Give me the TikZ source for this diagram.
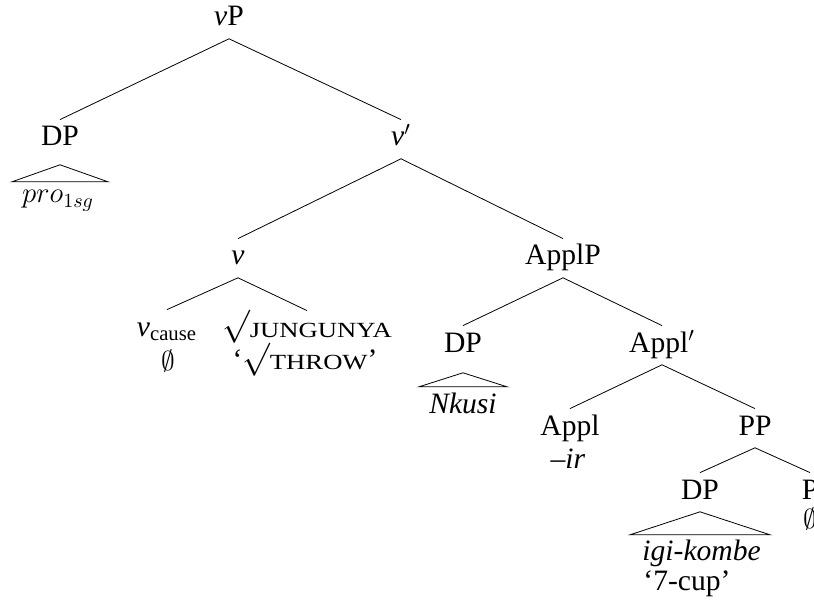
\documentclass[tikz,border=0pt]{standalone}
\usepackage[no-math]{fontspec}
\setmainfont{Liberation Serif}
\usepackage{graphicx}

% small caps made from squeezed capitals
\newcommand{\smcap}[1]{\scalebox{0.9}[0.73]{\MakeUppercase{#1}}}
% root sign sitting on the baseline
\newcommand{\rootsign}{\raisebox{0.07em}{\scalebox{1.15}{$\surd$}}}
\newcommand{\nullhead}{\scalebox{0.95}{$\emptyset$}}

\tikzset{
  lbl/.style={inner sep=3pt, text height=10pt, text depth=3.2pt, anchor=base},
  gloss/.style={inner sep=0pt, anchor=base}
}

\begin{document}
\begin{tikzpicture}[x=0.5pt,y=-0.5pt]
    \fontsize{14.8}{17.5}\selectfont
    \useasboundingbox (0,0) rectangle (814,609);

    % top of the tree
    \node[lbl] (vp) at (229,26) {\textit{v}P};
    \node[lbl] (dpa) at (60,146) {DP};
    \node[lbl] (vbar) at (401,146) {\textit{v}$'$};
    \draw (vp.south) -- (dpa.north);
    \draw (vp.south) -- (vbar.north);

    % subject
    \draw (dpa.south) ++(0,6) -- ++(-48,17) -- ++(96,0) -- cycle;
    \node[gloss] (pro) at (58,203) {$pro_{1sg}$};

    % v' level
    \node[lbl] (v) at (238,265) {\textit{v}};
    \node[lbl] (applp) at (563,265) {ApplP};
    \draw (vbar.south) -- (v.north);
    \draw (vbar.south) -- (applp.north);

    % little v and the root
    \node[lbl] (vcause) at (167,336) {\textit{v}\textsubscript{cause}};
    \node[gloss] (vnull) at (168,371) {\nullhead};
    \node[lbl] (root) at (307,337) {\rootsign\smcap{jungunya}};
    \node[gloss] (throw) at (305,370) {`\rootsign\smcap{throw}'};
    \draw (v.south) -- (vcause.north);
    \draw (v.south) -- (root.north);

    % applicative phrase
    \node[lbl] (dpb) at (463,352) {DP};
    \node[lbl] (applbar) at (662,352) {Appl$'$};
    \draw (applp.south) -- (dpb.north);
    \draw (applp.south) -- (applbar.north);
    \draw (dpb.south) ++(0,8) -- ++(-44,14) -- ++(88,0) -- cycle;
    \node[gloss] (nkusi) at (463,413) {\textit{Nkusi}};

    \node[lbl] (appl) at (570,435) {Appl};
    \node[gloss] (ir) at (568,468) {–\textit{ir}};
    \node[lbl] (pp) at (755,435) {PP};
    \draw (applbar.south) -- (appl.north);
    \draw (applbar.south) -- (pp.north);

    % PP
    \node[lbl] (dpc) at (700,499) {DP};
    \node[lbl] (p) at (810,499) {P};
    \node[gloss] (pnull) at (810,528) {\nullhead};
    \draw (pp.south) -- (dpc.north);
    \draw (pp.south) -- (p.north);
    \draw (dpc.south) -- ++(-70,23) -- ++(140,0) -- cycle;
    \node[gloss, anchor=base west] (cup) at (642,560) {\textit{igi-kombe}};
    \node[gloss, anchor=base west] (cupgl) at (643,590) {`7-cup'};

\end{tikzpicture}
\end{document}
